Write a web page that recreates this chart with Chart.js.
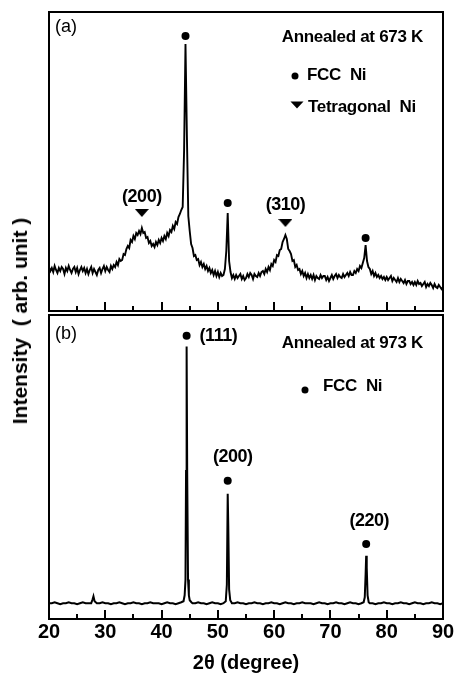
<!DOCTYPE html>
<html>
<head>
<meta charset="utf-8">
<script src="https://cdn.jsdelivr.net/npm/chart.js@4/dist/chart.umd.min.js"></script>
<style>
  html, body { margin: 0; padding: 0; background: #fff; }
  #wrap { position: relative; width: 458px; height: 675px; overflow: hidden; }
  canvas { position: absolute; left: 0; }
  #panelA { top: 0; }
  #panelB { top: 311px; }
  #ylab {
    position: absolute; left: 20px; top: 321px;
    transform: translate(-50%, -50%) rotate(-90deg);
    font: bold 21px 'Liberation Sans', Arial, sans-serif;
    white-space: pre; color: #000;
  }
</style>
</head>
<body>
<div id="wrap">
  <canvas id="panelA" width="458" height="320"></canvas>
  <canvas id="panelB" width="458" height="364"></canvas>
  <div id="ylab">Intensity  ( arb. unit )</div>
</div>
<script>
// (a) annealed at 673 K : scan 20-90 deg, step 0.25
const twoThetaA = [
  20, 20.25, 20.5, 20.75, 21, 21.25, 21.5, 21.75,
  22, 22.25, 22.5, 22.75, 23, 23.25, 23.5, 23.75,
  24, 24.25, 24.5, 24.75, 25, 25.25, 25.5, 25.75,
  26, 26.25, 26.5, 26.75, 27, 27.25, 27.5, 27.75,
  28, 28.25, 28.5, 28.75, 29, 29.25, 29.5, 29.75,
  30, 30.25, 30.5, 30.75, 31, 31.25, 31.5, 31.75,
  32, 32.25, 32.5, 32.75, 33, 33.25, 33.5, 33.75,
  34, 34.25, 34.5, 34.75, 35, 35.25, 35.5, 35.75,
  36, 36.25, 36.5, 36.75, 37, 37.25, 37.5, 37.75,
  38, 38.25, 38.5, 38.75, 39, 39.25, 39.5, 39.75,
  40, 40.25, 40.5, 40.75, 41, 41.25, 41.5, 41.75,
  42, 42.25, 42.5, 42.75, 43, 43.25, 43.5, 43.75,
  44, 44.25, 44.5, 44.75, 45, 45.25, 45.5, 45.75,
  46, 46.25, 46.5, 46.75, 47, 47.25, 47.5, 47.75,
  48, 48.25, 48.5, 48.75, 49, 49.25, 49.5, 49.75,
  50, 50.25, 50.5, 50.75, 51, 51.25, 51.5, 51.75,
  52, 52.25, 52.5, 52.75, 53, 53.25, 53.5, 53.75,
  54, 54.25, 54.5, 54.75, 55, 55.25, 55.5, 55.75,
  56, 56.25, 56.5, 56.75, 57, 57.25, 57.5, 57.75,
  58, 58.25, 58.5, 58.75, 59, 59.25, 59.5, 59.75,
  60, 60.25, 60.5, 60.75, 61, 61.25, 61.5, 61.75,
  62, 62.25, 62.5, 62.75, 63, 63.25, 63.5, 63.75,
  64, 64.25, 64.5, 64.75, 65, 65.25, 65.5, 65.75,
  66, 66.25, 66.5, 66.75, 67, 67.25, 67.5, 67.75,
  68, 68.25, 68.5, 68.75, 69, 69.25, 69.5, 69.75,
  70, 70.25, 70.5, 70.75, 71, 71.25, 71.5, 71.75,
  72, 72.25, 72.5, 72.75, 73, 73.25, 73.5, 73.75,
  74, 74.25, 74.5, 74.75, 75, 75.25, 75.5, 75.75,
  76, 76.25, 76.5, 76.75, 77, 77.25, 77.5, 77.75,
  78, 78.25, 78.5, 78.75, 79, 79.25, 79.5, 79.75,
  80, 80.25, 80.5, 80.75, 81, 81.25, 81.5, 81.75,
  82, 82.25, 82.5, 82.75, 83, 83.25, 83.5, 83.75,
  84, 84.25, 84.5, 84.75, 85, 85.25, 85.5, 85.75,
  86, 86.25, 86.5, 86.75, 87, 87.25, 87.5, 87.75,
  88, 88.25, 88.5, 88.75, 89, 89.25, 89.5, 89.75,
  90
];
const countsA = [
  44, 40, 43, 39, 45, 41, 38, 43,
  40, 44, 42, 37, 43, 40, 45, 41,
  38, 42, 44, 39, 43, 37, 41, 44,
  40, 43, 38, 42, 37, 41, 44, 38,
  42, 39, 36, 41, 43, 38, 42, 45,
  40, 44, 41, 39, 45, 42, 46, 44,
  49, 46, 52, 50, 51, 57, 56, 62,
  65, 63, 71, 69, 75, 72, 78, 76,
  80, 77, 83, 78, 79, 73, 74, 68,
  70, 65, 67, 64, 69, 66, 71, 68,
  73, 70, 75, 72, 78, 75, 81, 79,
  85, 82, 89, 87, 94, 97, 101, 104,
  160, 267, 175, 95, 80, 67, 63, 55,
  56, 51, 52, 46, 49, 44, 47, 42,
  45, 40, 43, 38, 41, 36, 40, 35,
  39, 34, 38, 35, 36, 42, 60, 98,
  50, 39, 33, 36, 32, 36, 33, 35,
  37, 32, 35, 31, 33, 37, 34, 38,
  36, 32, 37, 35, 34, 38, 35, 39,
  40, 37, 42, 39, 44, 41, 47, 45,
  51, 49, 56, 55, 61, 62, 69, 72,
  76, 72, 62, 60, 57, 50, 51, 44,
  46, 41, 42, 37, 40, 35, 38, 33,
  37, 33, 36, 32, 36, 31, 35, 33,
  32, 36, 33, 35, 35, 31, 34, 30,
  33, 36, 32, 35, 37, 33, 36, 34,
  33, 37, 34, 36, 38, 35, 39, 36,
  36, 40, 38, 42, 40, 45, 43, 48,
  53, 66, 50, 44, 42, 37, 40, 35,
  38, 34, 36, 33, 35, 32, 34, 31,
  34, 31, 33, 35, 30, 33, 31, 29,
  33, 29, 32, 30, 28, 31, 27, 30,
  30, 27, 29, 26, 29, 26, 30, 27,
  28, 25, 27, 29, 24, 27, 25, 28,
  26, 23, 27, 24, 23, 26, 24, 22,
  24
];
const fccPeaksA = [44.25, 51.75, 76.25];
const fccMarkA = [275, 108, 73];
const tetraPeaksA = [36.5, 62];
const tetraMarkA = [98, 88];
const tetraHklA = ['(200)', '(310)'];

// (b) annealed at 973 K
const twoThetaB = [
  20, 20.5, 21, 21.5, 22, 22.5, 23, 23.5, 24, 24.5, 25, 25.5, 26, 26.5, 27, 27.5,
  27.75, 27.9, 28.1, 28.5, 29, 29.5, 30, 30.5, 31, 31.5, 32, 32.5, 33, 33.5, 34, 34.5,
  35, 35.5, 36, 36.5, 37, 37.5, 38, 38.5, 39, 39.5, 40, 40.5, 41, 41.5, 42, 42.5,
  43, 43.5, 43.9, 44.1, 44.25, 44.35, 44.45, 44.55, 44.7, 44.85, 45, 45.3, 45.5, 46, 46.5, 47,
  47.5, 48, 48.5, 49, 49.5, 50, 50.5, 51, 51.4, 51.6, 51.75, 51.85, 52, 52.2, 52.5, 53,
  53.5, 54, 54.5, 55, 55.5, 56, 56.5, 57, 57.5, 58, 58.5, 59, 59.5, 60, 60.5, 61,
  61.5, 62, 62.5, 63, 63.5, 64, 64.5, 65, 65.5, 66, 66.5, 67, 67.5, 68, 68.5, 69,
  69.5, 70, 70.5, 71, 71.5, 72, 72.5, 73, 73.5, 74, 74.5, 75, 75.5, 75.9, 76.1, 76.25,
  76.35, 76.45, 76.6, 76.8, 77, 77.5, 78, 78.5, 79, 79.5, 80, 80.5, 81, 81.5, 82, 82.5,
  83, 83.5, 84, 84.5, 85, 85.5, 86, 86.5, 87, 87.5, 88, 88.5, 89, 89.5, 90
];
const countsB = [
  16, 16, 17, 16, 15, 16, 16, 17, 16, 16, 15, 16, 17, 16, 16, 16,
  20, 23, 18, 16, 16, 17, 16, 16, 15, 16, 16, 17, 16, 15, 16, 16,
  17, 16, 16, 15, 16, 16, 17, 16, 16, 16, 15, 16, 17, 16, 16, 15,
  16, 17, 18, 24, 40, 150, 276, 150, 40, 24, 19, 17, 16, 16, 17, 16,
  16, 15, 16, 17, 16, 16, 15, 16, 18, 35, 127, 95, 30, 19, 16, 16,
  17, 16, 16, 15, 16, 16, 17, 16, 16, 15, 16, 16, 17, 16, 16, 15,
  16, 17, 16, 16, 15, 16, 16, 17, 16, 16, 16, 15, 16, 17, 16, 16,
  15, 16, 16, 17, 16, 16, 15, 16, 17, 16, 16, 15, 16, 17, 22, 45,
  64, 52, 24, 17, 16, 16, 15, 16, 16, 17, 16, 16, 15, 16, 16, 17,
  16, 16, 15, 16, 17, 16, 16, 15, 16, 16, 17, 16, 16, 15, 16
];
const fccPeaksB = [44.45, 51.75, 76.35];
const fccMarkB = [287, 140, 76];
const fccHklB = ['(111)', '(200)', '(220)'];

const xTicks = [20, 25, 30, 35, 40, 45, 50, 55, 60, 65, 70, 75, 80, 85, 90];

const FONT = "'Liberation Sans', Arial, sans-serif";

function toPoints(xs, ys) {
  return xs.map((x, i) => ({ x: x, y: ys[i] }));
}

function triPath(ctx, cx, cy, w, h) {
  ctx.beginPath();
  ctx.moveTo(cx - w / 2, cy - h / 2);
  ctx.lineTo(cx + w / 2, cy - h / 2);
  ctx.lineTo(cx, cy + h / 2);
  ctx.closePath();
  ctx.fill();
}

// flat downward triangle used as point style
const triangleImg = document.createElement('canvas');
triangleImg.width = 14;
triangleImg.height = 8;
triPath(triangleImg.getContext('2d'), 7, 4, 14, 8);

// frame, inward ticks on the lower edge, captions, legend keys, hkl labels
const panelDecor = {
  id: 'panelDecor',
  afterDraw(chart, args, opts) {
    const { ctx, chartArea: a, scales } = chart;
    ctx.save();
    ctx.strokeStyle = '#000';
    ctx.fillStyle = '#000';

    ctx.lineWidth = 2;
    ctx.strokeRect(a.left, a.top, a.right - a.left, a.bottom - a.top);

    xTicks.forEach(v => {
      const px = Math.round(scales.x.getPixelForValue(v));
      const len = v % 10 === 0 ? 9 : 5;
      ctx.beginPath();
      ctx.moveTo(px, a.bottom);
      ctx.lineTo(px, a.bottom - len);
      ctx.stroke();
    });

    ctx.textBaseline = 'middle';
    ctx.font = '18px ' + FONT;
    ctx.textAlign = 'left';
    ctx.fillText(opts.tag, a.left + 6, a.top + opts.tagY);

    ctx.font = 'bold 17px ' + FONT;
    ctx.letterSpacing = '-0.3px';
    ctx.textAlign = 'right';
    ctx.fillText(opts.caption, a.right - 20, a.top + opts.captionY);

    ctx.textAlign = 'left';
    opts.keys.forEach(k => {
      if (k.shape === 'dot') {
        ctx.beginPath();
        ctx.arc(a.left + k.mx, a.top + k.my, 3.5, 0, Math.PI * 2);
        ctx.fill();
      } else {
        triPath(ctx, a.left + k.mx, a.top + k.my, 13, 7);
      }
      ctx.fillText(k.text, a.left + k.tx, a.top + k.ty);
    });

    ctx.font = 'bold 18px ' + FONT;
    ctx.letterSpacing = '-0.5px';
    const meta = chart.getDatasetMeta(opts.hklDataset);
    opts.hkl.forEach((label, i) => {
      const pt = meta.data[i];
      const [dx, dy, align] = opts.hklOffsets[i];
      ctx.textAlign = align;
      ctx.fillText(label, pt.x + dx, pt.y + dy);
    });
    ctx.restore();
  }
};

const traceStyle = {
  showLine: true, borderColor: '#000', pointRadius: 0, tension: 0, order: 2
};
const dotStyle = {
  pointStyle: 'circle', pointRadius: 4, backgroundColor: '#000', borderWidth: 0, order: 1
};

new Chart(document.getElementById('panelA'), {
  type: 'scatter',
  data: {
    datasets: [
      Object.assign({ data: toPoints(twoThetaA, countsA), borderWidth: 1.9 }, traceStyle),
      Object.assign({ data: toPoints(fccPeaksA, fccMarkA) }, dotStyle),
      { data: toPoints(tetraPeaksA, tetraMarkA), pointStyle: triangleImg, pointRadius: 6, order: 1 }
    ]
  },
  options: {
    responsive: false,
    animation: false,
    devicePixelRatio: 1,
    events: [],
    layout: { padding: { left: 49, right: 15, top: 12, bottom: 9 } },
    plugins: {
      legend: { display: false },
      tooltip: { enabled: false },
      panelDecor: {
        tag: '(a)', tagY: 15,
        caption: 'Annealed at 673 K', captionY: 25,
        keys: [
          { shape: 'dot', text: 'FCC  Ni', mx: 246, my: 64, tx: 258, ty: 63 },
          { shape: 'tri', text: 'Tetragonal  Ni', mx: 248, my: 93, tx: 259, ty: 95 }
        ],
        hklDataset: 2,
        hkl: tetraHklA,
        hklOffsets: [[0, -16, 'center'], [0, -18, 'center']]
      }
    },
    scales: {
      x: { type: 'linear', min: 20, max: 90, display: false },
      y: { min: 0, max: 299, display: false }
    }
  },
  plugins: [panelDecor]
});

new Chart(document.getElementById('panelB'), {
  type: 'scatter',
  data: {
    datasets: [
      Object.assign({ data: toPoints(twoThetaB, countsB), borderWidth: 2 }, traceStyle),
      Object.assign({ data: toPoints(fccPeaksB, fccMarkB) }, dotStyle)
    ]
  },
  options: {
    responsive: false,
    animation: false,
    devicePixelRatio: 1,
    events: [],
    layout: { padding: { left: 49, right: 15, top: 0, bottom: 0 } },
    plugins: {
      legend: { display: false },
      tooltip: { enabled: false },
      panelDecor: {
        tag: '(b)', tagY: 19,
        caption: 'Annealed at 973 K', captionY: 28,
        keys: [
          { shape: 'dot', text: 'FCC  Ni', mx: 256, my: 75, tx: 274, ty: 71 }
        ],
        hklDataset: 1,
        hkl: fccHklB,
        hklOffsets: [[13, 0, 'left'], [5, -24, 'center'], [3, -23, 'center']]
      }
    },
    scales: {
      x: {
        type: 'linear', min: 20, max: 90,
        afterBuildTicks: s => { s.ticks = xTicks.map(v => ({ value: v })); },
        afterFit: s => { s.height = 56; },
        grid: { display: false, drawTicks: false },
        border: { display: false },
        ticks: {
          autoSkip: false, maxRotation: 0, padding: 1, color: '#000',
          font: { family: FONT, size: 20, weight: 'bold' },
          callback: v => (v % 10 === 0 ? String(v) : '')
        },
        title: {
          display: true, text: '2θ (degree)', color: '#000',
          padding: { top: 0, bottom: 0 },
          font: { family: FONT, size: 20, weight: 'bold' }
        }
      },
      y: { min: 0, max: 308, display: false }
    }
  },
  plugins: [panelDecor]
});
</script>
</body>
</html>
